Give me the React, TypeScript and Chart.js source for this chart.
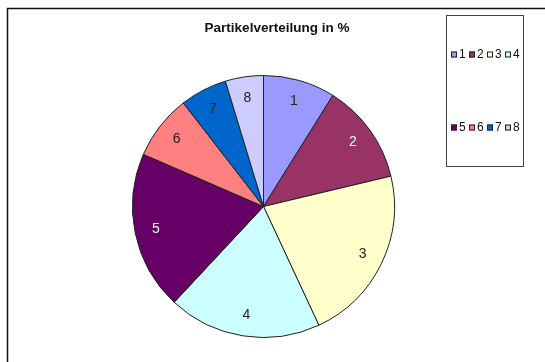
import React, { useEffect, useRef } from "react";
import { Chart, registerables } from "chart.js";

Chart.register(...registerables);

const TITLE = "Partikelverteilung in %";
const categories = ["1", "2", "3", "4", "5", "6", "7", "8"];
const values = [8.9, 12.4, 21.8, 18.9, 19.6, 8.0, 5.8, 4.7];
const colors = ["#9999FF", "#993366", "#FFFFCC", "#CCFFFF", "#660066", "#FF8080", "#0066CC", "#CCCCFF"];
const labelColors = ["#222", "#fff", "#222", "#222", "#fff", "#222", "#222", "#222"];

const FONT = "'Liberation Sans', Arial, sans-serif";

const decorPlugin = {
  id: "decor",
  beforeDraw(chart: any) {
    const ctx = chart.ctx;
    ctx.save();
    ctx.fillStyle = "#fff";
    ctx.fillRect(0, 0, chart.width, chart.height);
    // frame (top and left only visible)
    ctx.strokeStyle = "#111";
    ctx.lineWidth = 1.5;
    ctx.beginPath();
    ctx.moveTo(7.5, chart.height + 2);
    ctx.lineTo(7.5, 8.5);
    ctx.lineTo(chart.width + 2, 8.5);
    ctx.stroke();
    // title
    ctx.fillStyle = "#111";
    ctx.font = `bold 13.5px ${FONT}`;
    ctx.textAlign = "center";
    ctx.textBaseline = "middle";
    ctx.fillText(TITLE, 277, 28);
    // legend box
    ctx.strokeStyle = "#444";
    ctx.lineWidth = 1;
    ctx.strokeRect(446.5, 15.5, 77, 151);
    ctx.font = `12px ${FONT}`;
    ctx.textAlign = "left";
    const rowsY = [54.5, 127.5];
    categories.forEach((c, i) => {
      const row = Math.floor(i / 4);
      const col = i % 4;
      const x = 451 + col * 18;
      const y = rowsY[row];
      ctx.fillStyle = colors[i];
      ctx.fillRect(x, y - 3, 6, 6);
      ctx.strokeStyle = "#222";
      ctx.strokeRect(x + 0.5, y - 2.5, 5, 5);
      ctx.fillStyle = "#111";
      ctx.fillText(c, x + 8, y + 0.5);
    });
    ctx.restore();
  },
  afterDatasetsDraw(chart: any) {
    const ctx = chart.ctx;
    const meta = chart.getDatasetMeta(0);
    ctx.save();
    ctx.font = `14px ${FONT}`;
    ctx.textAlign = "center";
    ctx.textBaseline = "middle";
    meta.data.forEach((arc: any, i: number) => {
      const { x, y, startAngle, endAngle, outerRadius } = arc.getProps(
        ["x", "y", "startAngle", "endAngle", "outerRadius"],
        true
      );
      const mid = (startAngle + endAngle) / 2;
      const r = outerRadius * 0.84;
      ctx.fillStyle = labelColors[i];
      ctx.fillText(categories[i], x + Math.cos(mid) * r, y + Math.sin(mid) * r);
    });
    ctx.restore();
  },
};

export default function App() {
  const ref = useRef<HTMLCanvasElement>(null);
  useEffect(() => {
    if (!ref.current) return;
    const chart = new Chart(ref.current, {
      type: "pie",
      data: {
        labels: categories,
        datasets: [
          {
            data: values,
            backgroundColor: colors,
            borderColor: "#222",
            borderWidth: 1,
          },
        ],
      },
      options: {
        animation: false,
        responsive: false,
        maintainAspectRatio: false,
        layout: { padding: { left: 132, top: 75, right: 150, bottom: 24 } },
        plugins: {
          legend: { display: false },
          title: { display: false },
          tooltip: { enabled: false },
        },
      },
      plugins: [decorPlugin],
    });
    return () => chart.destroy();
  }, []);
  return (
    <div style={{ position: "fixed", left: 0, top: 0, width: 545, height: 362, background: "#fff" }}>
      <canvas ref={ref} width={545} height={362} style={{ width: 545, height: 362, display: "block" }} />
    </div>
  );
}
